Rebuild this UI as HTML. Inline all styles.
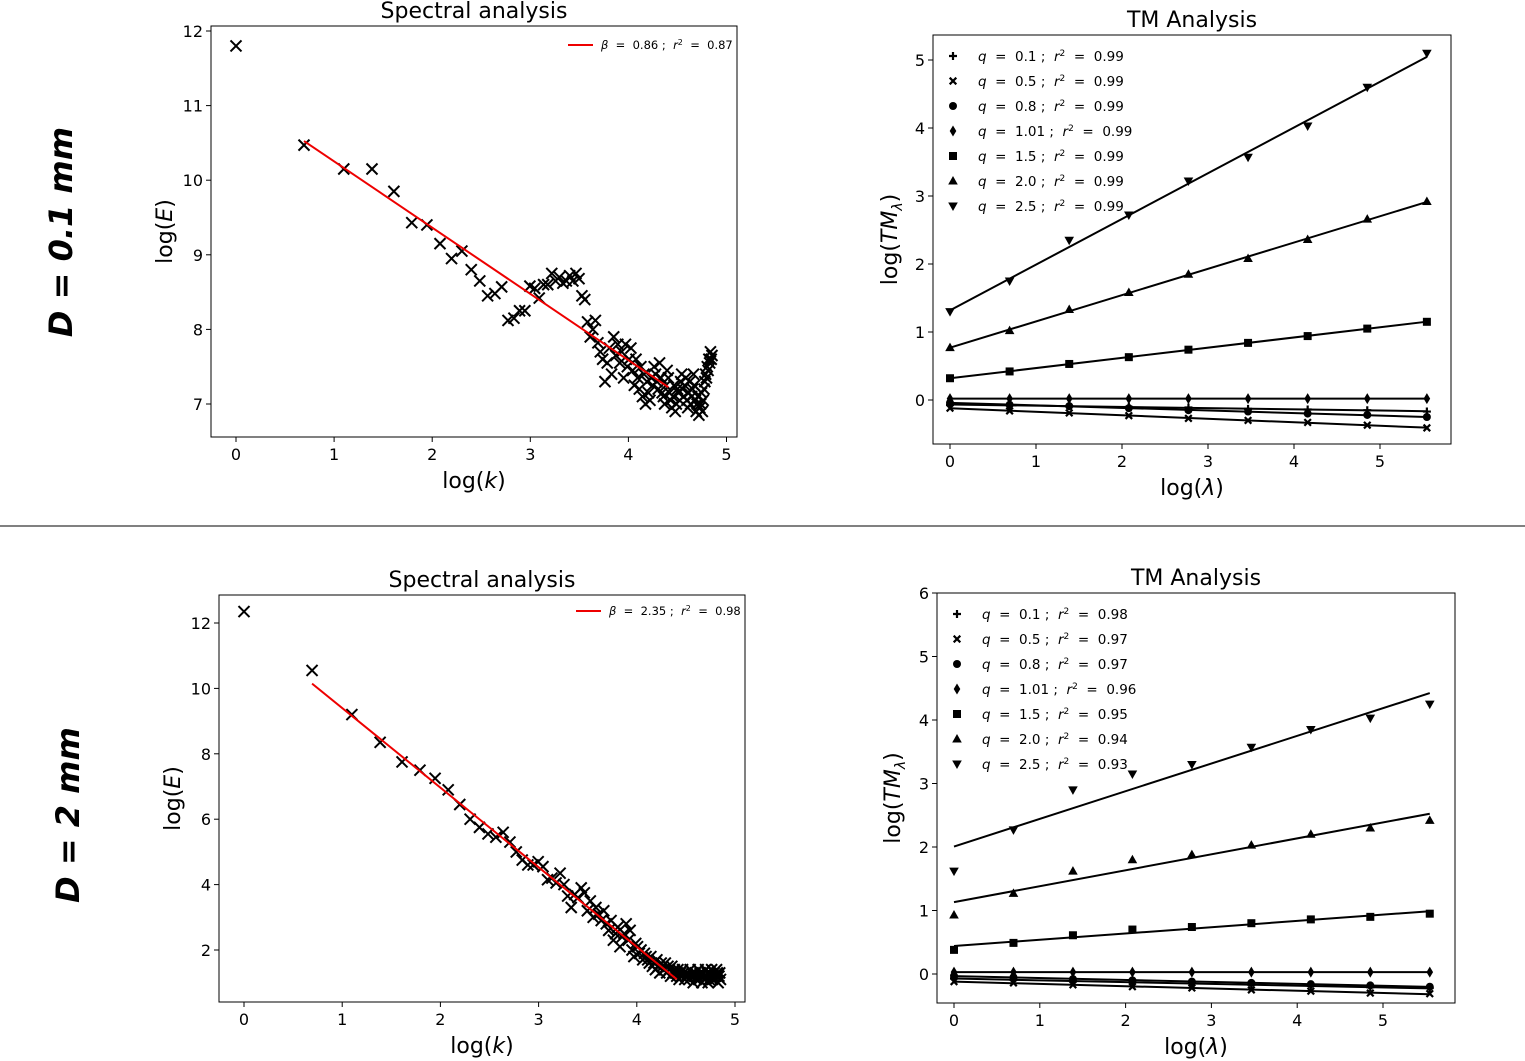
<!DOCTYPE html>
<html><head><meta charset="utf-8"><style>
html,body{margin:0;padding:0;background:#fff;}
svg{display:block;font-family:"DejaVu Sans","Liberation Sans",sans-serif;}
text{white-space:pre;}
</style></head><body>
<svg id="fig" width="1525" height="1061" viewBox="0 0 1525 1061" xmlns="http://www.w3.org/2000/svg" xml:space="preserve">
<line x1="0" y1="526" x2="1525" y2="526" stroke="#000" stroke-width="1"/>
<text transform="translate(72,232) rotate(-90)" text-anchor="middle" font-size="32" font-weight="bold" font-style="italic">D = 0.1 mm</text>
<text transform="translate(79,815) rotate(-90)" text-anchor="middle" font-size="32" font-weight="bold" font-style="italic">D = 2 mm</text>
</svg>
<script>
// ---- data ----
const specTopE = [11.8,10.47,10.15,10.15,9.85,9.43,9.40,9.15,8.95,9.05,
8.80,8.65,8.45,8.48,8.57,8.12,8.15,8.25,8.25,8.58,
8.55,8.42,8.60,8.60,8.75,8.65,8.70,8.62,8.65,8.72,
8.65,8.75,8.68,8.45,8.40,8.10,7.90,8.00,8.12,7.82,
7.70,7.60,7.30,7.55,7.75,7.40,7.90,7.65,7.80,7.55,
7.70,7.35,7.80,7.50,7.60,7.75,7.45,7.25,7.60,7.35,
7.20,7.50,7.10,7.40,7.00,7.30,7.15,7.05,7.35,7.25,
7.50,7.40,7.30,7.20,7.55,7.35,7.15,7.10,7.00,7.25,
7.45,7.35,7.15,7.05,6.95,7.10,7.25,6.90,7.00,7.20,
7.15,7.05,7.30,7.40,7.20,7.10,7.25,7.35,7.05,6.95,
7.15,7.30,7.00,7.10,7.20,7.40,7.25,7.05,6.90,7.00,
7.10,6.85,6.95,7.00,7.15,6.90,7.05,7.20,7.30,7.40,
7.35,7.50,7.45,7.60,7.55,7.70,7.60,7.65];
const specBotE = [12.35,10.55,9.2,8.35,7.75,7.5,7.25,6.9,6.45,6.0,
5.75,5.55,5.45,5.6,5.3,5.0,4.75,4.6,4.6,4.7,
4.55,4.15,4.2,4.05,4.35,4.0,3.65,3.3,3.7,3.6,
3.9,3.75,3.2,3.5,3.0,3.3,3.1,2.9,3.2,2.8,
2.6,2.9,2.3,2.5,2.7,2.1,2.4,2.5,2.8,2.3,
2.6,2.0,1.8,2.2,2.1,1.9,2.0,1.7,1.9,1.8,
1.7,1.6,1.8,1.5,1.6,1.4,1.7,1.5,1.3,1.6,
1.5,1.4,1.6,1.3,1.5,1.4,1.2,1.5,1.3,1.4,
1.3,1.2,1.4,1.1,1.3,1.2,1.4,1.3,1.1,1.2,
1.3,1.2,1.1,1.4,1.2,1.3,1.0,1.2,1.3,1.1,
1.2,1.4,1.1,1.3,1.2,1.0,1.3,1.2,1.1,1.4,
1.2,1.3,1.0,1.1,1.3,1.2,1.4,1.1,1.2,1.3,
1.1,1.2,1.4,1.3,1.0,1.2,1.3,1.1];
const specTopLegend = "0.86|0.87";
const specBotLegend = "2.35|0.98";
const tmQ = ["0.1","0.5","0.8","1.01","1.5","2.0","2.5"];
const tmTopR2 = ["0.99","0.99","0.99","0.99","0.99","0.99","0.99"];
const tmBotR2 = ["0.98","0.97","0.97","0.96","0.95","0.94","0.93"];
const tmTop_q01 = [-0.07,-0.08,-0.09,-0.10,-0.11,-0.13,-0.14,-0.15,-0.17];
const tmTop_q05 = [-0.12,-0.16,-0.19,-0.23,-0.27,-0.30,-0.33,-0.37,-0.41];
const tmTop_q08 = [-0.04,-0.07,-0.09,-0.12,-0.15,-0.17,-0.20,-0.22,-0.25];
const tmTop_q101 = [0.02,0.02,0.02,0.02,0.02,0.02,0.02,0.02,0.02];
const tmTop_q15 = [0.32,0.42,0.53,0.63,0.74,0.84,0.94,1.05,1.15];
const tmTop_q20 = [0.77,1.02,1.33,1.58,1.85,2.08,2.36,2.66,2.92];
const tmTop_q25 = [1.30,1.75,2.35,2.72,3.22,3.57,4.03,4.60,5.10];
const tmBot_q01 = [-0.07,-0.09,-0.11,-0.13,-0.15,-0.17,-0.19,-0.21,-0.22];
const tmBot_q05 = [-0.12,-0.14,-0.17,-0.20,-0.22,-0.25,-0.27,-0.30,-0.31];
const tmBot_q08 = [-0.03,-0.05,-0.08,-0.10,-0.12,-0.14,-0.16,-0.18,-0.20];
const tmBot_q101 = [0.03,0.03,0.03,0.03,0.03,0.03,0.03,0.03,0.03];
const tmBot_q15 = [0.38,0.49,0.61,0.70,0.74,0.80,0.86,0.90,0.95];
const tmBot_q20 = [0.93,1.27,1.62,1.80,1.88,2.03,2.20,2.30,2.42];
const tmBot_q25 = [1.62,2.27,2.90,3.15,3.30,3.57,3.85,4.03,4.25];
const tmLambda = [1,2,4,8,16,32,64,128,256];
const specXTicks = ["0","1","2","3","4","5"];
const specTopYTicks = ["7","8","9","10","11","12"];
const specBotYTicks = ["2","4","6","8","10","12"];
const tmTopYTicks = ["0","1","2","3","4","5"];
const tmBotYTicks = ["0","1","2","3","4","5","6"];
const tmXTicks = ["0","1","2","3","4","5"];

const NS = "http://www.w3.org/2000/svg";
const svg = document.getElementById('fig');
function mk(tag, attrs, parent){
  const e = document.createElementNS(NS, tag);
  for (const k in attrs) e.setAttribute(k, attrs[k]);
  (parent||svg).appendChild(e);
  return e;
}
function fit(xs, ys){
  const n=xs.length; let sx=0,sy=0,sxx=0,sxy=0;
  for(let i=0;i<n;i++){sx+=xs[i];sy+=ys[i];sxx+=xs[i]*xs[i];sxy+=xs[i]*ys[i];}
  const b=(n*sxy-sx*sy)/(n*sxx-sx*sx); return {b:b,a:(sy-b*sx)/n};
}
function axes(p, name){
  const g = mk('g', {});
  
  
  const box = mk('rect', {x:p.L, y:p.T, width:p.R-p.L, height:p.B-p.T, fill:'none', stroke:'#000', 'stroke-width':1}, g);
  
  
  p.xt.forEach(t=>{
    const v=parseFloat(t), x=p.sx(v);
    mk('line',{x1:x,y1:p.B,x2:x,y2:p.B+5,stroke:'#000'},g);
    const tx = mk('text',{x:x,y:p.B+23,'text-anchor':'middle','font-size':16},g);
    tx.textContent=t;
    
    
  });
  p.yt.forEach(t=>{
    const v=parseFloat(t), y=p.sy(v);
    mk('line',{x1:p.L-5,y1:y,x2:p.L,y2:y,stroke:'#000'},g);
    const tx = mk('text',{x:p.L-8,y:y+6,'text-anchor':'end','font-size':16},g);
    tx.textContent=t;
    
    
  });
  const ti = mk('text',{x:(p.L+p.R)/2,y:p.T-8,'text-anchor':'middle','font-size':22},g);
  ti.textContent=p.title;
  
  
  const xl = mk('text',{x:(p.L+p.R)/2,y:p.B+51,'text-anchor':'middle','font-size':22},g);
  xl.innerHTML=p.xlab;
  
  
  const yl = mk('text',{transform:`translate(${p.ylx},${(p.T+p.B)/2}) rotate(-90)`,'text-anchor':'middle','font-size':22},g);
  yl.innerHTML=p.ylab;
  
  
  return g;
}
function xMark(g,x,y,s,sw){
  return mk('path',{d:`M${x-s},${y-s}L${x+s},${y+s}M${x-s},${y+s}L${x+s},${y-s}`,stroke:'#000','stroke-width':sw,fill:'none'},g);
}
function spectral(p, E, leg, name){
  const g = axes(p, name);
  const xs=[], ys=[];
  E.forEach((v,i)=>{
    const lx=Math.log(i+1);
    const m = xMark(g,p.sx(lx),p.sy(v),5.5,2);
    
    
    if(i>=1 && i<=81){xs.push(lx);ys.push(v);}
  });
  const f = fit(xs,ys);
  const x1=xs[0], x2=xs[xs.length-1];
  const ln = mk('line',{x1:p.sx(x1),y1:p.sy(f.a+f.b*x1),x2:p.sx(x2),y2:p.sy(f.a+f.b*x2),stroke:'#e00','stroke-width':2},g);
  
  
  const parts=leg.split('|');
  const lg = mk('g',{},g);
  
  
  mk('line',{x1:p.R-169,y1:p.LY,x2:p.R-144,y2:p.LY,stroke:'#e00','stroke-width':2},lg);
  const t = mk('text',{x:p.R-136,y:p.LY+4,'font-size':11.5},lg);
  t.innerHTML=`<tspan font-style="italic">β</tspan>  =  ${parts[0]} ;  <tspan font-style="italic">r</tspan><tspan dy="-4" font-size="8">2</tspan><tspan dy="4">  =  ${parts[1]}</tspan>`;
}
function tmMarker(g,type,x,y){
  let e;
  if(type==0) e=mk('path',{d:`M${x-4},${y}L${x+4},${y}M${x},${y-4}L${x},${y+4}`,stroke:'#000','stroke-width':2.2},g);
  else if(type==1) e=xMark(g,x,y,3.3,2.2);
  else if(type==2) e=mk('circle',{cx:x,cy:y,r:4,fill:'#000'},g);
  else if(type==3) e=mk('path',{d:`M${x},${y-5.5}L${x+3.3},${y}L${x},${y+5.5}L${x-3.3},${y}Z`,fill:'#000'},g);
  else if(type==4) e=mk('rect',{x:x-4,y:y-4,width:8,height:8,fill:'#000'},g);
  else if(type==5) e=mk('path',{d:`M${x},${y-5}L${x+4.8},${y+3.5}L${x-4.8},${y+3.5}Z`,fill:'#000'},g);
  else e=mk('path',{d:`M${x},${y+5}L${x+4.8},${y-3.5}L${x-4.8},${y-3.5}Z`,fill:'#000'},g);
  return e;
}
function tm(p, series, r2, name){
  const g = axes(p, name);
  const xs = tmLambda.map(l=>Math.log(l));
  series.forEach((s,si)=>{
    const f = fit(xs,s);
    const ln = mk('line',{x1:p.sx(xs[0]),y1:p.sy(f.a),x2:p.sx(xs[8]),y2:p.sy(f.a+f.b*xs[8]),stroke:'#000','stroke-width':2},g);
    
    
    s.forEach((v,i)=>{
      const m = tmMarker(g,si,p.sx(xs[i]),p.sy(v));
      
      
    });
  });
  const lg = mk('g',{},g);
  
  
  tmQ.forEach((q,i)=>{
    const y = p.T+21+25*i;
    tmMarker(lg,i,p.L+20,y);
    const t = mk('text',{x:p.L+45,y:y+5,'font-size':13.5},lg);
    t.innerHTML=`<tspan font-style="italic">q</tspan>  =  ${q} ;  <tspan font-style="italic">r</tspan><tspan dy="-5" font-size="9">2</tspan><tspan dy="5">  =  ${r2[i]}</tspan>`;
    
    
  });
}
const lamLab = 'log(<tspan font-style="italic">λ</tspan>)';
const tmLab = 'log(<tspan font-style="italic">TM</tspan><tspan font-style="italic" font-size="14" dy="5">λ</tspan><tspan dy="-5">)</tspan>';
spectral({L:211,R:737,T:26,B:437,LY:45,sx:v=>236+98.1*v,sy:v=>404-74.6*(v-7),xt:specXTicks,yt:specTopYTicks,
  title:'Spectral analysis',xlab:'log(<tspan font-style="italic">k</tspan>)',ylab:'log(<tspan font-style="italic">E</tspan>)',ylx:172}, specTopE, specTopLegend, 'spectral-top');
spectral({L:219,R:745,T:595,B:1002,LY:611,sx:v=>244+98.2*v,sy:v=>950-32.7*(v-2),xt:specXTicks,yt:specBotYTicks,
  title:'Spectral analysis',xlab:'log(<tspan font-style="italic">k</tspan>)',ylab:'log(<tspan font-style="italic">E</tspan>)',ylx:180}, specBotE, specBotLegend, 'spectral-bottom');
tm({L:933,R:1451,T:35,B:444,sx:v=>950+86*v,sy:v=>400-68*v,xt:tmXTicks,yt:tmTopYTicks,
  title:'TM Analysis',xlab:lamLab,ylab:tmLab,ylx:897},
  [tmTop_q01,tmTop_q05,tmTop_q08,tmTop_q101,tmTop_q15,tmTop_q20,tmTop_q25], tmTopR2, 'tm-top');
tm({L:937,R:1455,T:593,B:1003,sx:v=>954+85.8*v,sy:v=>974-63.5*v,xt:tmXTicks,yt:tmBotYTicks,
  title:'TM Analysis',xlab:lamLab,ylab:tmLab,ylx:900},
  [tmBot_q01,tmBot_q05,tmBot_q08,tmBot_q101,tmBot_q15,tmBot_q20,tmBot_q25], tmBotR2, 'tm-bottom');
</script>
</body></html>
